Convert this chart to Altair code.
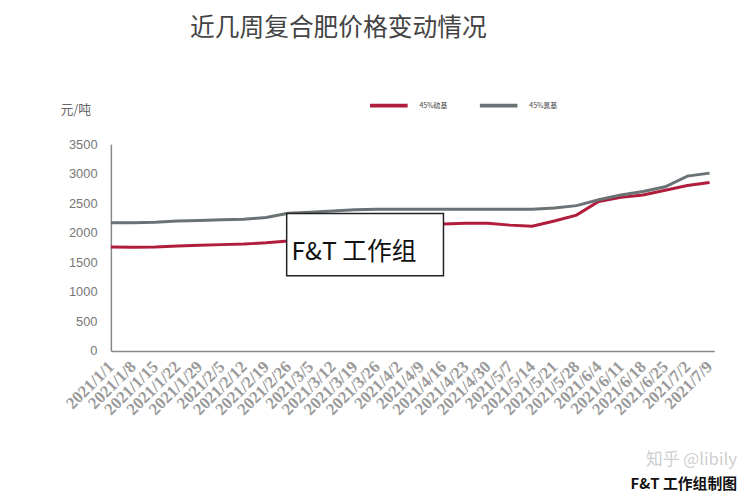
import altair as alt
import pandas as pd

weeks = ["2021-01-01", "2021-01-08", "2021-01-15", "2021-01-22", "2021-01-29", "2021-02-05",
         "2021-02-12", "2021-02-19", "2021-02-26", "2021-03-05", "2021-03-12", "2021-03-19",
         "2021-03-26", "2021-04-02", "2021-04-09", "2021-04-16", "2021-04-23", "2021-04-30",
         "2021-05-07", "2021-05-14", "2021-05-21", "2021-05-28", "2021-06-04", "2021-06-11",
         "2021-06-18", "2021-06-25", "2021-07-02", "2021-07-09"]
sulfur = [1760, 1755, 1760, 1775, 1790, 1800, 1810, 1830, 1860, 1900, 1950, 2000, 2050, 2100,
          2130, 2150, 2160, 2160, 2130, 2110, 2200, 2300, 2530, 2600, 2640, 2720, 2800, 2850]
chlorine = [2170, 2170, 2180, 2200, 2210, 2220, 2230, 2260, 2330, 2350, 2370, 2390, 2400, 2400,
            2400, 2400, 2400, 2400, 2400, 2400, 2420, 2460, 2560, 2640, 2700, 2780, 2960, 3010]
y_ticks = [0, 500, 1000, 1500, 2000, 2500, 3000, 3500]
series_names = ["45%硫基", "45%氯基"]
series_colors = ["#b01c3c", "#6b7275"]

rows = []
for d, v in zip(weeks, sulfur):
    rows.append({"date": d, "value": v, "series": series_names[0]})
for d, v in zip(weeks, chlorine):
    rows.append({"date": d, "value": v, "series": series_names[1]})
df = pd.DataFrame(rows)

def ms(s):
    return int(pd.Timestamp(s, tz="UTC").value // 1_000_000)

xscale = alt.Scale(type="utc", domain=[ms("2021-01-01"), ms("2021-07-10T12:00:00")])

lines = alt.Chart(df).mark_line(strokeWidth=3).encode(
    x=alt.X("date:T", scale=xscale, title=None,
            axis=alt.Axis(values=[ms(w) for w in weeks], tickCount=100,
                          labelExpr="utcFormat(datum.value, '%Y/%-m/%-d')",
                          labelAngle=-45, labelAlign="right", labelBaseline="middle",
                          labelFont="Liberation Serif", labelFontSize=17, labelFontWeight="bold",
                          labelColor="#9a9a9a", labelOverlap=False, labelBound=False,
                          labelSeparation=0, labelPadding=13,
                          grid=False, ticks=False, domainColor="#888", domainWidth=1.5)),
    y=alt.Y("value:Q", scale=alt.Scale(domain=[0, 3500]),
            axis=alt.Axis(values=y_ticks, tickCount=100, format="d", grid=False, ticks=False,
                          labelOverlap=False,
                          labelFont="Liberation Sans", labelFontSize=13, labelColor="#777",
                          labelPadding=14, domainColor="#888", domainWidth=1.5,
                          title="元/吨", titleAngle=0, titleX=-36, titleY=-28,
                          titleAlign="center", titleFont="Noto Sans CJK SC", titleFontSize=13,
                          titleFontWeight="normal", titleColor="#666")),
    color=alt.Color("series:N", sort=series_names,
                    scale=alt.Scale(domain=series_names, range=series_colors),
                    legend=alt.Legend(orient="none", legendX=260, legendY=-60, direction="horizontal",
                                      title=None, symbolType="stroke", symbolSize=1444,
                                      symbolStrokeWidth=4, labelFontSize=7, labelColor="#444",
                                      labelFont="Noto Sans CJK SC", columnPadding=24, labelOffset=10)),
)

box_df = pd.DataFrame({"x": ["2021-02-25T12:00:00Z"], "x2": ["2021-04-16T00:00:00Z"],
                       "y": [1273], "y2": [2328]})
box = alt.Chart(box_df).mark_rect(fill="white", stroke="#222", strokeWidth=1.5).encode(
    x=alt.X("x:T", scale=xscale), x2="x2:T", y=alt.Y("y:Q"), y2="y2:Q")

label_df = pd.DataFrame({"x": ["2021-02-27T00:00:00Z"], "y": [1670], "t": ["F&T 工作组"]})
box_text = alt.Chart(label_df).mark_text(align="left", baseline="middle", fontSize=25,
                                         font="Noto Sans CJK SC", color="#111").encode(
    x=alt.X("x:T", scale=xscale), y="y:Q", text="t:N")

foot_df = pd.DataFrame({"t": ["知乎 @libily"]})
foot1 = alt.Chart(foot_df).mark_text(align="right", baseline="middle", fontSize=17,
                                     font="Noto Sans CJK SC", color="#cfcfcf").encode(
    x=alt.value(633), y=alt.value(319), text="t:N")
foot2_df = pd.DataFrame({"t": ["F&T 工作组制图"]})
foot2 = alt.Chart(foot2_df).mark_text(align="right", baseline="middle", fontSize=15,
                                      font="Noto Sans CJK SC", fontWeight="bold", color="#111").encode(
    x=alt.value(633), y=alt.value(344), text="t:N")

chart = alt.layer(lines, box, box_text, foot1, foot2).properties(
    width=610, height=209,
    autosize=alt.AutoSizeParams(type="none"),
    padding={"left": 104, "top": 135, "right": 28, "bottom": 148},
    title=alt.TitleParams("近几周复合肥价格变动情况", anchor="start", frame="group", dx=80,
                          offset=44, font="Noto Sans CJK SC", fontSize=25, fontWeight="normal",
                          color="#444"),
).configure_view(stroke=None)

chart.save("out.html", embed_options={"renderer": "svg", "actions": False})
